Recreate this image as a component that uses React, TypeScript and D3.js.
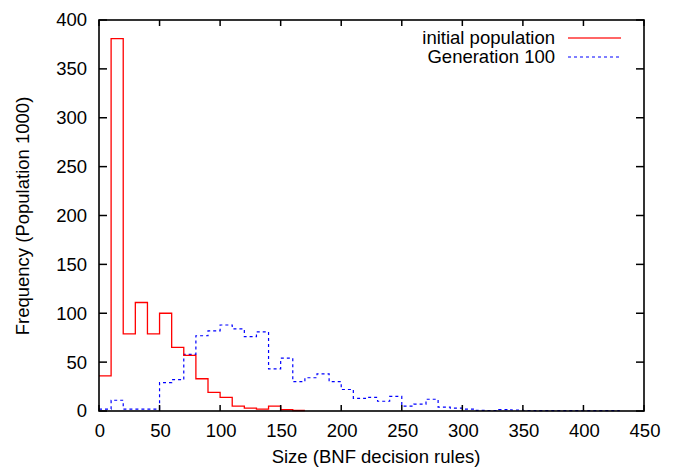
import React from "react";
import * as d3 from "d3";

const BIN_WIDTH = 10;
// frequencies per bin of width 10, starting at 0
const initialPopulation = [36, 381, 79, 111, 79, 100, 65, 57, 33, 19, 14, 5, 3, 2, 5, 1.5, 0.5];
const generation100 = [
  2, 11, 2, 2, 2, 29, 32, 58, 77, 82, 88, 84, 76, 81, 43, 54, 30, 34, 38, 30,
  22, 13, 14, 10, 15, 5, 7, 12, 4, 3, 2, 0.7, 0.5, 1.5, 1, 0.5, 0.3, 0.3, 0.3,
  0.3, 0.3, 0.3, 0.3,
];
const xTicks = [0, 50, 100, 150, 200, 250, 300, 350, 400, 450];
const yTicks = [0, 50, 100, 150, 200, 250, 300, 350, 400];
const seriesNames = ["initial population", "Generation 100"];
const xLabel = "Size (BNF decision rules)";
const yLabel = "Frequency (Population 1000)";

const W = 675;
const H = 469;
const L = 99;
const R = 644;
const T = 20;
const B = 411;
const FONT = "'Liberation Sans', Arial, Helvetica, sans-serif";
const FS = 18.5;

export default function App() {
  const x = d3.scaleLinear().domain([0, 450]).range([L, R]);
  const y = d3.scaleLinear().domain([0, 400]).range([B, T]);

  const stepPath = (vals: number[]) => {
    const pts: [number, number][] = vals.map((v, i) => [i * BIN_WIDTH, v]);
    pts.push([vals.length * BIN_WIDTH, vals[vals.length - 1]]);
    return d3
      .line<[number, number]>()
      .x((d) => x(d[0]))
      .y((d) => y(d[1]))
      .curve(d3.curveStepAfter)(pts) as string;
  };

  return (
    <svg
      width={W}
      height={H}
      style={{ position: "absolute", left: 0, top: 0, background: "#fff" }}
      fontFamily={FONT}
      fontSize={FS}
    >
      <rect x={0} y={0} width={W} height={H} fill="#fff" />
      {/* data */}
      <path d={stepPath(generation100)} fill="none" stroke="#0000ff" strokeWidth={1.2} strokeDasharray="3,3" />
      <path d={stepPath(initialPopulation)} fill="none" stroke="#ff0000" strokeWidth={1.3} />

      {/* ticks */}
      {xTicks.map((t) => (
        <g key={"x" + t}>
          <line x1={x(t)} x2={x(t)} y1={B} y2={B - 6} stroke="#000" strokeWidth={1.5} />
          <line x1={x(t)} x2={x(t)} y1={T} y2={T + 6} stroke="#000" strokeWidth={1.5} />
          <text x={x(t) + 1} y={437} textAnchor="middle" fill="#000">
            {t}
          </text>
        </g>
      ))}
      {yTicks.map((t) => (
        <g key={"y" + t}>
          <line x1={L} x2={L + 8} y1={y(t)} y2={y(t)} stroke="#000" strokeWidth={1.5} />
          <line x1={R} x2={R - 8} y1={y(t)} y2={y(t)} stroke="#000" strokeWidth={1.5} />
          <text x={87} y={y(t)} dy="0.35em" textAnchor="end" fill="#000">
            {t}
          </text>
        </g>
      ))}
      <rect x={L} y={T} width={R - L} height={B - T} fill="none" stroke="#000" strokeWidth={1.6} />

      {/* axis labels */}
      <text x={376} y={463} textAnchor="middle" fill="#000">
        {xLabel}
      </text>
      <text
        transform={`translate(29,216) rotate(-90)`}
        textAnchor="middle"
        fill="#000"
      >
        {yLabel}
      </text>

      {/* legend */}
      <text x={555} y={43.5} textAnchor="end" fill="#000">
        {seriesNames[0]}
      </text>
      <line x1={568} x2={621} y1={38} y2={38} stroke="#ff0000" strokeWidth={1.5} strokeOpacity={0.8} />
      <text x={555} y={63} textAnchor="end" fill="#000">
        {seriesNames[1]}
      </text>
      <line x1={568} x2={621} y1={57} y2={57} stroke="#0000ff" strokeWidth={1.2} strokeDasharray="3,3" />
    </svg>
  );
}
